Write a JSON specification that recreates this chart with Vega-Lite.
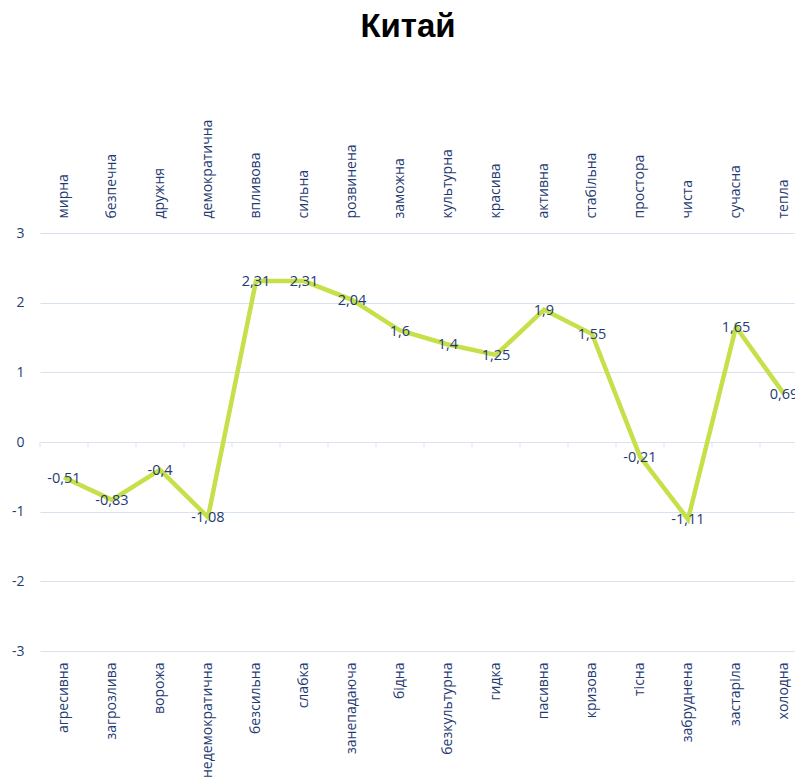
{
  "$schema": "https://vega.github.io/schema/vega-lite/v6.json",
  "autosize": "none",
  "padding": {"left": 40, "top": 233, "right": 0, "bottom": 129},
  "width": 768,
  "height": 418,
  "title": {"text": "Китай", "font": "Liberation Sans", "fontSize": 33, "fontWeight": "bold", "color": "#000000", "anchor": "middle", "offset": 75, "dx": -16, "letterSpacing": 0.5},
  "data": {"values": [
    {"neg": "агресивна", "pos": "мирна", "value": -0.51},
    {"neg": "загрозлива", "pos": "безпечна", "value": -0.83},
    {"neg": "ворожа", "pos": "дружня", "value": -0.4},
    {"neg": "недемократична", "pos": "демократична", "value": -1.08},
    {"neg": "безсильна", "pos": "впливова", "value": 2.31},
    {"neg": "слабка", "pos": "сильна", "value": 2.31},
    {"neg": "занепадаюча", "pos": "розвинена", "value": 2.04},
    {"neg": "бідна", "pos": "заможна", "value": 1.6},
    {"neg": "безкультурна", "pos": "культурна", "value": 1.4},
    {"neg": "гидка", "pos": "красива", "value": 1.25},
    {"neg": "пасивна", "pos": "активна", "value": 1.9},
    {"neg": "кризова", "pos": "стабільна", "value": 1.55},
    {"neg": "тісна", "pos": "простора", "value": -0.21},
    {"neg": "забруднена", "pos": "чиста", "value": -1.11},
    {"neg": "застаріла", "pos": "сучасна", "value": 1.65},
    {"neg": "холодна", "pos": "тепла", "value": 0.69}
  ]},
  "layer": [
    {
      "layer": [
        {
          "mark": {"type": "rule", "color": "#d9e2f3", "strokeWidth": 1},
          "encoding": {
            "x": {"field": "neg", "type": "nominal", "sort": null, "bandPosition": 0, "scale": {"type": "band", "paddingInner": 0, "paddingOuter": 0}, "axis": {"orient": "bottom"}, "title": null},
            "y": {"datum": 0, "type": "quantitative"},
            "y2": {"datum": -0.075}
          }
        },
        {
          "mark": {"type": "line", "color": "#c5e048", "strokeWidth": 4.5},
          "encoding": {
            "x": {"field": "neg", "type": "nominal", "sort": null, "scale": {"type": "band", "paddingInner": 0, "paddingOuter": 0}, "axis": {"orient": "bottom"}, "title": null},
            "y": {"field": "value", "type": "quantitative", "scale": {"domain": [-3, 3], "nice": false}, "axis": {"values": [-3, -2, -1, 0, 1, 2, 3], "format": "d"}, "title": null}
          }
        },
        {
          "mark": {"type": "text", "font": "Open Sans", "fontSize": 14.5, "color": "#1f3b72", "baseline": "middle", "align": "center", "dy": 1},
          "encoding": {
            "x": {"field": "neg", "type": "nominal", "sort": null, "scale": {"type": "band", "paddingInner": 0, "paddingOuter": 0}, "axis": {"orient": "bottom"}, "title": null},
            "y": {"field": "value", "type": "quantitative"},
            "text": {"field": "value", "type": "quantitative", "format": ".2~f"}
          }
        }
      ]
    },
    {
      "mark": {"type": "point", "opacity": 0},
      "encoding": {
        "x": {"field": "pos", "type": "nominal", "sort": null, "scale": {"type": "band", "paddingInner": 0, "paddingOuter": 0}, "axis": {"orient": "top"}, "title": null},
        "y": {"field": "value", "type": "quantitative"}
      }
    }
  ],
  "resolve": {"scale": {"x": "independent"}, "axis": {"x": "independent"}},
  "config": {
    "locale": {"number": {"decimal": ",", "thousands": " ", "grouping": [3], "currency": ["", ""], "minus": "-"}},
    "view": {"stroke": null},
    "axis": {"labelFont": "Open Sans", "labelFontSize": 14, "labelColor": "#1f3b72", "domain": false, "ticks": false},
    "axisX": {"grid": false, "labelAngle": -90},
    "axisBottom": {"labelPadding": 11},
    "axisTop": {"labelPadding": 15},
    "axisY": {"grid": true, "gridColor": "#d9e2f3", "gridWidth": 1, "labelPadding": 16}
  }
}
